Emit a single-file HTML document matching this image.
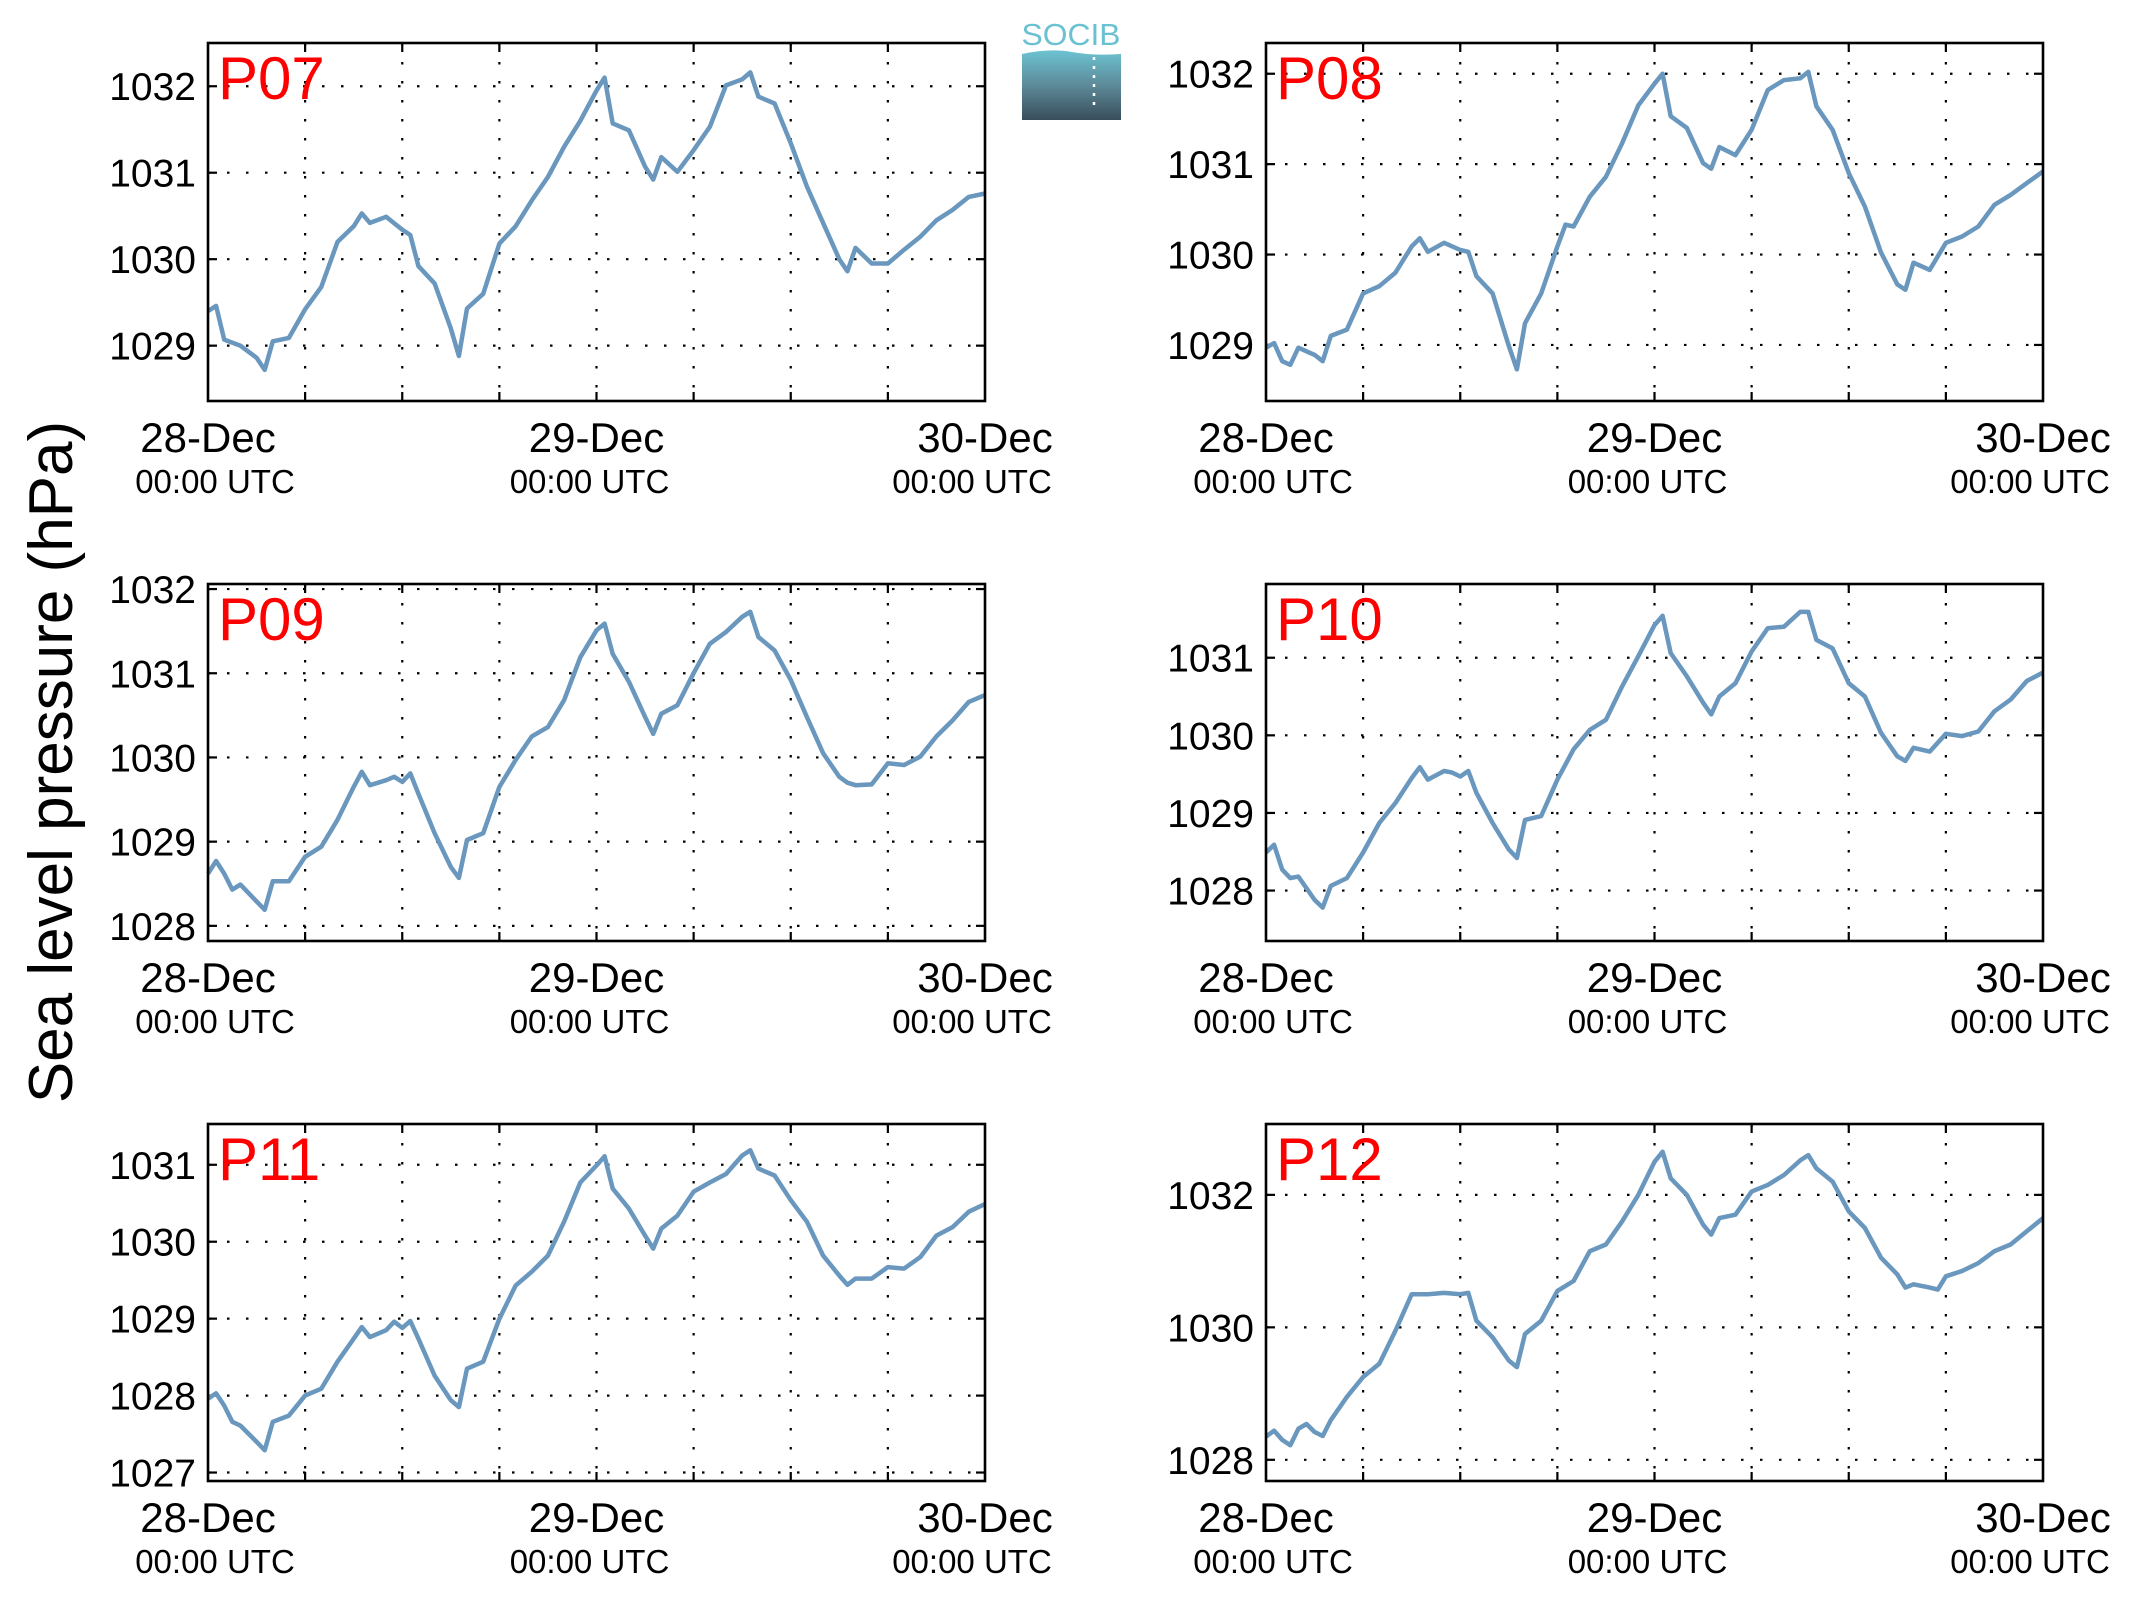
<!DOCTYPE html>
<html><head><meta charset="utf-8"><style>
html,body{margin:0;padding:0;background:#fff;}
svg{display:block;font-family:"Liberation Sans",Arial,sans-serif;}
</style></head><body>
<svg id="fig" width="2133" height="1608" viewBox="0 0 2133 1608" xmlns="http://www.w3.org/2000/svg">
<defs>
<linearGradient id="logoGrad" x1="0" y1="0" x2="0" y2="1">
<stop offset="0" stop-color="#6cc3d2"/><stop offset="0.5" stop-color="#5d8a98"/><stop offset="1" stop-color="#3a4e5c"/>
</linearGradient>
</defs>
<g>
<text x="1071" y="45" font-size="31" fill="#69c1d1" text-anchor="middle" textLength="99" lengthAdjust="spacingAndGlyphs">SOCIB</text>
<path d="M1022,54 Q1050,48 1072,52 T1121,54 L1121,120 L1022,120 Z" fill="url(#logoGrad)"/>
<line x1="1094" y1="57" x2="1094" y2="106" stroke="#fff" stroke-width="2.5" stroke-dasharray="3,6"/>
</g>
<text transform="translate(72,762) rotate(-90)" font-size="62" text-anchor="middle" fill="#000">Sea level pressure (hPa)</text>
</svg>
<script>
const hoursA = [0,0.5,1,2,3,3.5,4,5,6,7,8,9,9.5,10,11,12,12.5,13,14,15,15.5,16,17,18,19,20,21,22,23,24,24.5,25,26,27,27.5,28,29,30,31,32,33,33.5,34,35,36,37,38,39,39.5,40,41,42,43,44,45,46,47,48];
const p07 = [1029.40,1029.46,1029.07,1029.0,1028.86,1028.72,1029.05,1029.09,1029.42,1029.68,1030.2,1030.38,1030.53,1030.42,1030.49,1030.34,1030.28,1029.92,1029.72,1029.2,1028.88,1029.43,1029.6,1030.18,1030.38,1030.68,1030.95,1031.3,1031.6,1031.95,1032.1,1031.57,1031.49,1031.07,1030.92,1031.18,1031.01,1031.26,1031.53,1032.01,1032.08,1032.16,1031.88,1031.8,1031.34,1030.84,1030.42,1030.0,1029.86,1030.13,1029.95,1029.95,1030.11,1030.26,1030.45,1030.57,1030.72,1030.76];
const hoursB = [0,0.5,1,1.5,2,3,3.5,4,5,6,7,8,9,9.5,10,11,12,12.5,13,14,15,15.5,16,17,18,18.5,19,20,21,22,23,24,24.5,25,26,27,27.5,28,29,30,31,32,33,33.5,34,35,36,37,38,39,39.5,40,41,42,43,44,45,46,47,48];
const p08 = [1028.97,1029.02,1028.82,1028.78,1028.97,1028.89,1028.82,1029.10,1029.17,1029.57,1029.65,1029.80,1030.09,1030.18,1030.03,1030.13,1030.05,1030.03,1029.76,1029.57,1028.99,1028.73,1029.24,1029.57,1030.09,1030.33,1030.31,1030.64,1030.86,1031.23,1031.65,1031.89,1032.0,1031.53,1031.40,1031.01,1030.95,1031.19,1031.10,1031.38,1031.82,1031.93,1031.95,1032.02,1031.64,1031.38,1030.90,1030.53,1030.02,1029.67,1029.61,1029.91,1029.83,1030.13,1030.20,1030.31,1030.55,1030.66,1030.79,1030.92];
const hoursC = [0,0.5,1,1.5,2,3,3.5,4,5,6,7,8,9,9.5,10,11,11.5,12,12.5,13,14,15,15.5,16,17,18,19,20,21,22,23,24,24.5,25,26,27,27.5,28,29,30,31,32,33,33.5,34,35,36,37,38,39,39.5,40,41,42,43,44,45,46,47,48];
const p09 = [1028.62,1028.77,1028.62,1028.43,1028.49,1028.29,1028.19,1028.53,1028.53,1028.82,1028.94,1029.26,1029.65,1029.83,1029.67,1029.73,1029.77,1029.71,1029.81,1029.57,1029.10,1028.70,1028.57,1029.02,1029.10,1029.65,1029.97,1030.25,1030.36,1030.68,1031.19,1031.51,1031.59,1031.23,1030.90,1030.48,1030.28,1030.52,1030.62,1031.0,1031.35,1031.49,1031.67,1031.73,1031.43,1031.27,1030.92,1030.48,1030.05,1029.77,1029.70,1029.67,1029.68,1029.93,1029.91,1030.01,1030.25,1030.44,1030.66,1030.74];
const p10 = [1028.49,1028.59,1028.27,1028.16,1028.18,1027.88,1027.78,1028.06,1028.16,1028.49,1028.87,1029.13,1029.45,1029.59,1029.43,1029.54,1029.52,1029.47,1029.54,1029.26,1028.87,1028.53,1028.42,1028.91,1028.96,1029.43,1029.82,1030.07,1030.20,1030.63,1031.02,1031.42,1031.54,1031.06,1030.76,1030.42,1030.27,1030.50,1030.67,1031.08,1031.38,1031.40,1031.59,1031.59,1031.23,1031.12,1030.67,1030.50,1030.03,1029.73,1029.67,1029.84,1029.79,1030.02,1029.99,1030.05,1030.31,1030.46,1030.70,1030.81];
const p11 = [1027.96,1028.03,1027.87,1027.66,1027.61,1027.40,1027.29,1027.66,1027.74,1028.0,1028.09,1028.44,1028.74,1028.89,1028.76,1028.85,1028.96,1028.88,1028.97,1028.74,1028.26,1027.94,1027.85,1028.35,1028.44,1029.0,1029.43,1029.61,1029.82,1030.26,1030.77,1030.99,1031.11,1030.69,1030.43,1030.08,1029.91,1030.17,1030.34,1030.65,1030.77,1030.88,1031.12,1031.19,1030.95,1030.86,1030.54,1030.26,1029.82,1029.56,1029.44,1029.52,1029.52,1029.67,1029.65,1029.80,1030.08,1030.19,1030.39,1030.49];
const hoursD = [0,0.5,1,1.5,2,2.5,3,3.5,4,5,6,7,8,9,10,11,12,12.5,13,14,15,15.5,16,17,18,19,20,21,22,23,24,24.5,25,26,27,27.5,28,29,30,31,32,33,33.5,34,35,36,37,38,39,39.5,40,41,41.5,42,43,44,45,46,47,48];
const p12 = [1028.35,1028.44,1028.30,1028.22,1028.47,1028.54,1028.42,1028.36,1028.60,1028.95,1029.25,1029.45,1029.95,1030.50,1030.50,1030.52,1030.50,1030.52,1030.10,1029.85,1029.50,1029.40,1029.90,1030.10,1030.55,1030.70,1031.15,1031.25,1031.60,1032.0,1032.50,1032.65,1032.25,1032.0,1031.55,1031.40,1031.65,1031.70,1032.05,1032.15,1032.30,1032.52,1032.60,1032.40,1032.20,1031.75,1031.50,1031.05,1030.80,1030.60,1030.65,1030.60,1030.57,1030.77,1030.85,1030.97,1031.15,1031.25,1031.45,1031.65];
const stationNames = ["P07","P08","P09","P10","P11","P12"];
const yMins = [1028.36,1028.38,1027.82,1027.35,1026.89,1027.68];
const yMaxs = [1032.50,1032.34,1032.06,1031.95,1031.53,1033.07];
const yTicks07 = [1029,1030,1031,1032];
const yTicks08 = [1029,1030,1031,1032];
const yTicks09 = [1028,1029,1030,1031,1032];
const yTicks10 = [1028,1029,1030,1031];
const yTicks11 = [1027,1028,1029,1030,1031];
const yTicks12 = [1028,1030,1032];
const xTickHours = [0,6,12,18,24,30,36,42,48];
const dateLabelHours = [0,24,48];
const dateLabels = ["28-Dec","29-Dec","30-Dec"];
const timeLabels = ["00:00 UTC","00:00 UTC","00:00 UTC"];

const seriesHours = [hoursA,hoursB,hoursC,hoursC,hoursC,hoursD];
const seriesVals = [p07,p08,p09,p10,p11,p12];
const seriesTicks = [yTicks07,yTicks08,yTicks09,yTicks10,yTicks11,yTicks12];
const colX = [[208,985],[1266,2043]];
const rowY = [[43,401],[584,941],[1124,1481]];
const utcShift = [7,-7,-13];
const NS = "http://www.w3.org/2000/svg";
const svg = document.getElementById("fig");
function mk(tag, attrs, parent){
  const e = document.createElementNS(NS, tag);
  for (const k in attrs) e.setAttribute(k, attrs[k]);
  parent.appendChild(e);
  return e;
}
for (let i = 0; i < 6; i++) {
  const [x0, x1] = colX[i % 2];
  const [y0, y1] = rowY[Math.floor(i / 2)];
  const name = stationNames[i].toLowerCase();
  const xs = h => x0 + (h / 48) * (x1 - x0);
  const ys = v => y1 - (v - yMins[i]) / (yMaxs[i] - yMins[i]) * (y1 - y0);
  const g = mk("g", {}, svg);
  
  
  xTickHours.slice(1, -1).forEach(h => {
    const l = mk("line", {x1: xs(h), x2: xs(h), y1: y0, y2: y1, stroke: "#000", "stroke-width": 2.2, "stroke-dasharray": "2.5,16.5"}, g);
    
    
    const t1 = mk("line", {x1: xs(h), x2: xs(h), y1: y1, y2: y1 - 9, stroke: "#000", "stroke-width": 2.2}, g);
    
    
    const t2 = mk("line", {x1: xs(h), x2: xs(h), y1: y0, y2: y0 + 9, stroke: "#000", "stroke-width": 2.2}, g);
    
    
  });
  seriesTicks[i].forEach(v => {
    const y = ys(v);
    const l = mk("line", {x1: x0, x2: x1, y1: y, y2: y, stroke: "#000", "stroke-width": 2.2, "stroke-dasharray": "2.5,16.5"}, g);
    
    
    const t1 = mk("line", {x1: x0, x2: x0 + 9, y1: y, y2: y, stroke: "#000", "stroke-width": 2.2}, g);
    
    
    const t2 = mk("line", {x1: x1 - 9, x2: x1, y1: y, y2: y, stroke: "#000", "stroke-width": 2.2}, g);
    
    
    const tl = mk("text", {x: x0 - 12, y: y + 14, "font-size": 39, "text-anchor": "end", fill: "#000"}, g);
    tl.textContent = v;
    
    
  });
  const hs = seriesHours[i], vs = seriesVals[i];
  let d = "";
  for (let k = 0; k < vs.length; k++) d += (k ? "L" : "M") + xs(hs[k]).toFixed(1) + "," + ys(vs[k]).toFixed(1);
  const p = mk("path", {d: d, fill: "none", stroke: "#6a97bd", "stroke-width": 4.5, "stroke-linejoin": "round"}, g);
  
  
  const fr = mk("rect", {x: x0, y: y0, width: x1 - x0, height: y1 - y0, fill: "none", stroke: "#000", "stroke-width": 2.6}, g);
  
  
  const st = mk("text", {x: x0 + 10, y: y0 + 56, "font-size": 60, fill: "#ff0000"}, g);
  st.textContent = stationNames[i];
  
  
  dateLabelHours.forEach((h, j) => {
    const dl = mk("text", {x: xs(h), y: y1 + 51, "font-size": 42, "text-anchor": "middle", fill: "#000"}, g);
    dl.textContent = dateLabels[j];
    
    
    const tl = mk("text", {x: xs(h) + utcShift[j], y: y1 + 92, "font-size": 33, "text-anchor": "middle", fill: "#000"}, g);
    tl.textContent = timeLabels[j];
    
    
  });
}
</script>
</body></html>
